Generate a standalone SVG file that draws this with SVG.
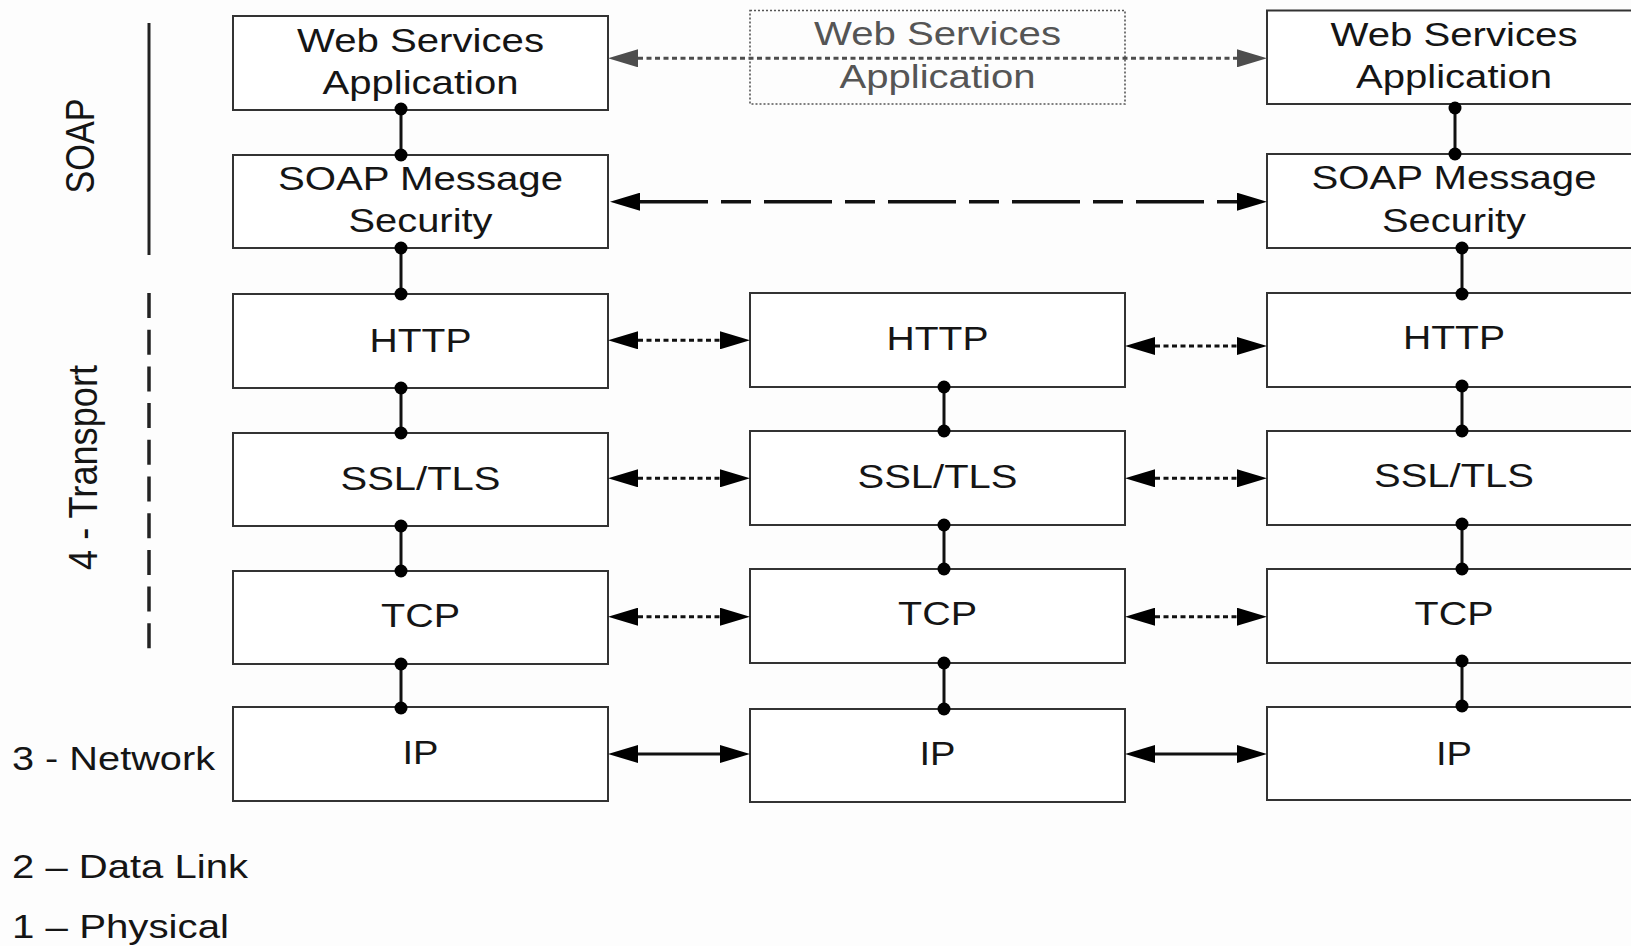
<svg xmlns="http://www.w3.org/2000/svg" width="1631" height="946" viewBox="0 0 1631 946">
<style>
.bx{fill:#fff;stroke:#333;stroke-width:2}
.bxd{fill:none;stroke:#555;stroke-width:1.6;stroke-dasharray:2 2}
.t{font-family:"Liberation Sans",Arial,sans-serif;font-size:33.5px;fill:#151515;text-anchor:middle}
.tg{fill:#555}
.lb{font-family:"Liberation Sans",Arial,sans-serif;font-size:33.5px;fill:#151515}
.vc{stroke:#111;stroke-width:3}
.dot{fill:#000}
.dt{stroke:#111;stroke-width:3;stroke-dasharray:5 3.5;fill:none}
.dtg{stroke:#4d4d4d;stroke-width:3;stroke-dasharray:5 3.5;fill:none}
.sl{stroke:#111;stroke-width:3;fill:none}
.ld{stroke:#111;stroke-width:3.5;stroke-dasharray:68 13 30 13;fill:none}
</style>
<defs>
<marker id="ah" markerUnits="userSpaceOnUse" markerWidth="30" markerHeight="18" refX="0" refY="9" orient="auto-start-reverse"><path d="M0,0 L30,9 L0,18 z" fill="#000"/></marker>
<marker id="ahg" markerUnits="userSpaceOnUse" markerWidth="30" markerHeight="18" refX="0" refY="9" orient="auto-start-reverse"><path d="M0,0 L30,9 L0,18 z" fill="#4d4d4d"/></marker>
</defs>
<rect width="1631" height="946" fill="#fdfdfd"/>

<g id="layer-labels">
<line x1="149" y1="23" x2="149" y2="255" stroke="#222" stroke-width="3"/>
<line x1="149" y1="293" x2="149" y2="652" stroke="#222" stroke-width="3.5" stroke-dasharray="25 11.7"/>
<text class="lb" transform="translate(94,146) scale(1.22,1) rotate(-90)" text-anchor="middle" textLength="95" lengthAdjust="spacingAndGlyphs">SOAP</text>
<text class="lb" transform="translate(96.5,467.5) scale(1.22,1) rotate(-90)" text-anchor="middle" textLength="205" lengthAdjust="spacingAndGlyphs">4 - Transport</text>
<text class="lb" x="12" y="770" textLength="203" lengthAdjust="spacingAndGlyphs">3 - Network</text>
<text class="lb" x="12" y="878" textLength="236" lengthAdjust="spacingAndGlyphs">2 – Data Link</text>
<text class="lb" x="12" y="937.5" textLength="217" lengthAdjust="spacingAndGlyphs">1 – Physical</text>
</g>

<g id="c1-wsa"><rect class="bx" x="233" y="16" width="375" height="94"/><text class="t" x="420.5" y="51.7" textLength="247" lengthAdjust="spacingAndGlyphs">Web Services</text><text class="t" x="420.5" y="93.5" textLength="196" lengthAdjust="spacingAndGlyphs">Application</text></g>
<g id="c1-soap"><rect class="bx" x="233" y="155" width="375" height="93"/><text class="t" x="420.5" y="190" textLength="285" lengthAdjust="spacingAndGlyphs">SOAP Message</text><text class="t" x="420.5" y="232" textLength="144" lengthAdjust="spacingAndGlyphs">Security</text></g>
<g id="c1-http"><rect class="bx" x="233" y="294" width="375" height="94"/><text class="t" x="420.5" y="352" textLength="102" lengthAdjust="spacingAndGlyphs">HTTP</text></g>
<g id="c1-ssl"><rect class="bx" x="233" y="433" width="375" height="93"/><text class="t" x="420.5" y="489.5" textLength="160" lengthAdjust="spacingAndGlyphs">SSL/TLS</text></g>
<g id="c1-tcp"><rect class="bx" x="233" y="571" width="375" height="93"/><text class="t" x="420.5" y="627" textLength="79" lengthAdjust="spacingAndGlyphs">TCP</text></g>
<g id="c1-ip"><rect class="bx" x="233" y="707" width="375" height="94"/><text class="t" x="420.5" y="763.5" textLength="36" lengthAdjust="spacingAndGlyphs">IP</text></g>

<g id="c2-wsa"><rect class="bxd" x="750" y="10.5" width="375" height="93.5"/><text class="t tg" x="937.5" y="45" textLength="247" lengthAdjust="spacingAndGlyphs">Web Services</text><text class="t tg" x="937.5" y="88" textLength="196" lengthAdjust="spacingAndGlyphs">Application</text></g>
<g id="c2-http"><rect class="bx" x="750" y="293" width="375" height="94"/><text class="t" x="937.5" y="349.5" textLength="102" lengthAdjust="spacingAndGlyphs">HTTP</text></g>
<g id="c2-ssl"><rect class="bx" x="750" y="431" width="375" height="94"/><text class="t" x="937.5" y="487.5" textLength="160" lengthAdjust="spacingAndGlyphs">SSL/TLS</text></g>
<g id="c2-tcp"><rect class="bx" x="750" y="569" width="375" height="94"/><text class="t" x="937.5" y="625" textLength="79" lengthAdjust="spacingAndGlyphs">TCP</text></g>
<g id="c2-ip"><rect class="bx" x="750" y="709" width="375" height="93"/><text class="t" x="937.5" y="765" textLength="36" lengthAdjust="spacingAndGlyphs">IP</text></g>

<g id="c3-wsa"><rect class="bx" x="1267" y="10.5" width="375" height="93.5"/><text class="t" x="1454" y="45.7" textLength="247" lengthAdjust="spacingAndGlyphs">Web Services</text><text class="t" x="1454" y="88" textLength="196" lengthAdjust="spacingAndGlyphs">Application</text></g>
<g id="c3-soap"><rect class="bx" x="1267" y="154" width="375" height="94"/><text class="t" x="1454" y="189.3" textLength="285" lengthAdjust="spacingAndGlyphs">SOAP Message</text><text class="t" x="1454" y="231.7" textLength="144" lengthAdjust="spacingAndGlyphs">Security</text></g>
<g id="c3-http"><rect class="bx" x="1267" y="293" width="375" height="94"/><text class="t" x="1454" y="348.5" textLength="102" lengthAdjust="spacingAndGlyphs">HTTP</text></g>
<g id="c3-ssl"><rect class="bx" x="1267" y="431" width="375" height="94"/><text class="t" x="1454" y="487" textLength="160" lengthAdjust="spacingAndGlyphs">SSL/TLS</text></g>
<g id="c3-tcp"><rect class="bx" x="1267" y="569" width="375" height="94"/><text class="t" x="1454" y="625" textLength="79" lengthAdjust="spacingAndGlyphs">TCP</text></g>
<g id="c3-ip"><rect class="bx" x="1267" y="707" width="375" height="93"/><text class="t" x="1454" y="764.5" textLength="36" lengthAdjust="spacingAndGlyphs">IP</text></g>

<g id="connectors">
<line class="dtg" x1="638" y1="58.3" x2="1237" y2="58.3" marker-start="url(#ahg)" marker-end="url(#ahg)"/>
<line class="ld" x1="640" y1="201.7" x2="1237" y2="201.7" marker-start="url(#ah)" marker-end="url(#ah)"/>
<line class="dt" x1="638" y1="340.3" x2="720" y2="340.3" marker-start="url(#ah)" marker-end="url(#ah)"/>
<line class="dt" x1="1155" y1="346" x2="1237" y2="346" marker-start="url(#ah)" marker-end="url(#ah)"/>
<line class="dt" x1="638" y1="478.3" x2="720" y2="478.3" marker-start="url(#ah)" marker-end="url(#ah)"/>
<line class="dt" x1="1155" y1="478.3" x2="1237" y2="478.3" marker-start="url(#ah)" marker-end="url(#ah)"/>
<line class="dt" x1="638" y1="616.7" x2="720" y2="616.7" marker-start="url(#ah)" marker-end="url(#ah)"/>
<line class="dt" x1="1155" y1="616.7" x2="1237" y2="616.7" marker-start="url(#ah)" marker-end="url(#ah)"/>
<line class="sl" x1="638" y1="754" x2="720" y2="754" marker-start="url(#ah)" marker-end="url(#ah)"/>
<line class="sl" x1="1155" y1="754" x2="1237" y2="754" marker-start="url(#ah)" marker-end="url(#ah)"/>
<line class="vc" x1="401" y1="109" x2="401" y2="155"/><circle class="dot" cx="401" cy="109" r="6.5"/><circle class="dot" cx="401" cy="155" r="6.5"/>
<line class="vc" x1="401" y1="248" x2="401" y2="294"/><circle class="dot" cx="401" cy="248" r="6.5"/><circle class="dot" cx="401" cy="294" r="6.5"/>
<line class="vc" x1="401" y1="388" x2="401" y2="433"/><circle class="dot" cx="401" cy="388" r="6.5"/><circle class="dot" cx="401" cy="433" r="6.5"/>
<line class="vc" x1="401" y1="526" x2="401" y2="571"/><circle class="dot" cx="401" cy="526" r="6.5"/><circle class="dot" cx="401" cy="571" r="6.5"/>
<line class="vc" x1="401" y1="664" x2="401" y2="708"/><circle class="dot" cx="401" cy="664" r="6.5"/><circle class="dot" cx="401" cy="708" r="6.5"/>
<line class="vc" x1="944" y1="387" x2="944" y2="431"/><circle class="dot" cx="944" cy="387" r="6.5"/><circle class="dot" cx="944" cy="431" r="6.5"/>
<line class="vc" x1="944" y1="525" x2="944" y2="569"/><circle class="dot" cx="944" cy="525" r="6.5"/><circle class="dot" cx="944" cy="569" r="6.5"/>
<line class="vc" x1="944" y1="663" x2="944" y2="709"/><circle class="dot" cx="944" cy="663" r="6.5"/><circle class="dot" cx="944" cy="709" r="6.5"/>
<line class="vc" x1="1455" y1="108" x2="1455" y2="154"/><circle class="dot" cx="1455" cy="108" r="6.5"/><circle class="dot" cx="1455" cy="154" r="6.5"/>
<line class="vc" x1="1462" y1="248" x2="1462" y2="294"/><circle class="dot" cx="1462" cy="248" r="6.5"/><circle class="dot" cx="1462" cy="294" r="6.5"/>
<line class="vc" x1="1462" y1="386" x2="1462" y2="431"/><circle class="dot" cx="1462" cy="386" r="6.5"/><circle class="dot" cx="1462" cy="431" r="6.5"/>
<line class="vc" x1="1462" y1="524" x2="1462" y2="569"/><circle class="dot" cx="1462" cy="524" r="6.5"/><circle class="dot" cx="1462" cy="569" r="6.5"/>
<line class="vc" x1="1462" y1="661" x2="1462" y2="706"/><circle class="dot" cx="1462" cy="661" r="6.5"/><circle class="dot" cx="1462" cy="706" r="6.5"/>
</g>
</svg>
